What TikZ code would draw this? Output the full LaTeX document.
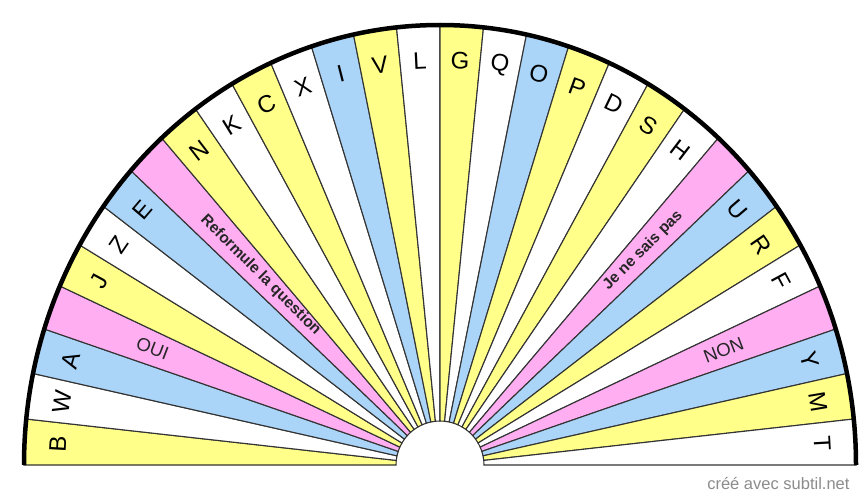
\documentclass[tikz,border=0pt]{standalone}
\usepackage{fontspec}
\setmainfont{Liberation Sans}
\definecolor{jaune}{HTML}{FFFF8A}
\definecolor{bleu}{HTML}{AAD4F8}
\definecolor{rose}{HTML}{FFAEF2}
\tikzset{
  secteur/.style={draw=black!80,line width=1.1pt},
  lettre/.style={font=\fontsize{24}{24}\selectfont,inner sep=0pt},
  etiquette/.style={font=\bfseries\fontsize{15.5}{16}\selectfont,inner sep=0pt,text=black!85},
  reponse/.style={font=\fontsize{18.5}{18}\selectfont,inner sep=0pt,text=black!85},
}
\begin{document}
\begin{tikzpicture}[x=1pt,y=1pt]
\useasboundingbox (0,0) rectangle (864,491);
\fill[white] (0,0) rectangle (864,491);
% the 30 sectors, from left to right
\foreach \c [count=\i from 0] in {jaune,white,bleu,rose,jaune,white,bleu,rose,jaune,white,
    jaune,white,bleu,jaune,white,jaune,white,bleu,jaune,white,
    jaune,white,rose,bleu,jaune,white,rose,bleu,jaune,white}{
  \pgfmathsetmacro\a{180-6*\i}
  \pgfmathsetmacro\b{\a-6}
  \filldraw[secteur,fill=\c] ({440+44*cos(\a)},{26+44*sin(\a)})
    -- ({440+416*cos(\a)},{26+440*sin(\a)})
    arc[start angle=\a,end angle=\b,x radius=416,y radius=440]
    -- ({440+44*cos(\b)},{26+44*sin(\b)})
    arc[start angle=\b,end angle=\a,radius=44] -- cycle;
}
% outer rim
\draw[line width=4.5pt] (24,26) arc[start angle=180,end angle=0,x radius=416,y radius=440];
% letters
\foreach \t/\i in {B/0,W/1,A/2,J/4,Z/5,E/6,N/8,K/9,C/10,X/11,I/12,V/13,L/14,
    G/15,Q/16,O/17,P/18,D/19,S/20,H/21,U/23,R/24,F/25,Y/27,M/28,T/29}{
  \pgfmathsetmacro\m{177-6*\i}
  \pgfmathsetmacro\r{atan2(440*sin(\m),416*cos(\m))-90}
  \node[lettre,rotate=\r] (l\t) at ({440+0.92*416*cos(\m)},{26+0.92*440*sin(\m)}) {\t};
}
% answers
\node[reponse,rotate=-21] (oui) at ({440+0.74*416*cos(159)},{26+0.74*440*sin(159)}) {OUI};
\node[etiquette,rotate=-45] (reformule) at ({440+0.61*416*cos(135)},{26+0.61*440*sin(135)}) {Reformule la question};
\node[etiquette,rotate=45] (nsp) at ({440+0.69*416*cos(45)},{26+0.69*440*sin(45)}) {Je ne sais pas};
\node[reponse,rotate=21] (non) at ({440+0.73*416*cos(21)},{26+0.73*440*sin(21)}) {NON};
\node[anchor=east,text=black!45,font=\fontsize{16.5}{16.5}\selectfont] (credit) at (853,8) {créé avec subtil.net};
\end{tikzpicture}
\end{document}
